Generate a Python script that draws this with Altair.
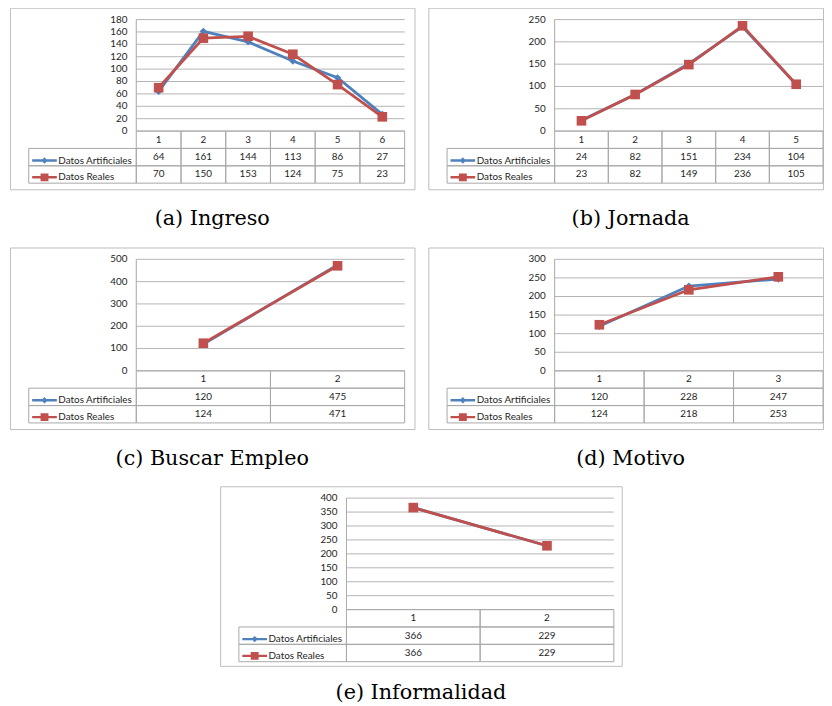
import altair as alt
import pandas as pd

# ---------------- data ----------------
SERIES = ["Datos Artificiales", "Datos Reales"]
COLORS = ["#4F81BD", "#C0504D"]

ingreso_art = [64, 161, 144, 113, 86, 27]
ingreso_real = [70, 150, 153, 124, 75, 23]
ingreso_ticks = [0, 20, 40, 60, 80, 100, 120, 140, 160, 180]

jornada_art = [24, 82, 151, 234, 104]
jornada_real = [23, 82, 149, 236, 105]
jornada_ticks = [0, 50, 100, 150, 200, 250]

buscar_art = [120, 475]
buscar_real = [124, 471]
buscar_ticks = [0, 100, 200, 300, 400, 500]

motivo_art = [120, 228, 247]
motivo_real = [124, 218, 253]
motivo_ticks = [0, 50, 100, 150, 200, 250, 300]

informal_art = [366, 229]
informal_real = [366, 229]
informal_ticks = [0, 50, 100, 150, 200, 250, 300, 350, 400]

captions = ["(a) Ingreso", "(b) Jornada", "(c) Buscar Empleo", "(d) Motivo", "(e) Informalidad"]

# ---------------- style / layout ----------------
PLOT_L = 128
LABEL_L = 19
Y_ZERO = 125
Y_TOP = 12
ROW_H = 17.6
FONT = "Lato"
FS = 10
TEXT_COLOR = "#1E1E1E"
GRID = "#B4B4B4"
TABLE = "#A8A8A8"
BOX = "#BDBDBD"
# legend sample symbols: a line with a small marker (drawn with strokes)
PATH_ART = "M-2.5,0H2.5M0,-0.3L0.3,0L0,0.3L-0.3,0Z"
PATH_REAL = ("M-2.5,0H2.5M-0.8,-0.55H0.8M-0.8,-0.2H0.8"
             "M-0.8,0.2H0.8M-0.8,0.55H0.8")
IND = dict(fill="independent", stroke="independent", shape="independent")


def panel(caption, art, real, ticks, width, height, plot_r, title_dx, title_offset):
    n = len(art)
    cats = list(range(1, n + 1))
    xs = alt.Scale(domain=[0.5, n + 0.5], range=[PLOT_L, plot_r], nice=False, zero=False)
    ys = alt.Scale(domain=[0, ticks[-1]], range=[Y_ZERO, Y_TOP], nice=False, zero=False)
    rs = alt.Scale(domain=[0, 3], range=[Y_ZERO, Y_ZERO + 3 * ROW_H], nice=False, zero=False)
    cell_w = (plot_r - PLOT_L) / n
    x_label = 0.5 - (PLOT_L - LABEL_L) / cell_w

    def X(f):
        return alt.X(f, scale=xs, axis=None)

    def Y(f):
        return alt.Y(f, scale=ys, axis=None)

    def R(f):
        return alt.Y(f, scale=rs, axis=None)

    long = pd.DataFrame({
        "idx": cats * 2,
        "serie": [SERIES[0]] * n + [SERIES[1]] * n,
        "valor": list(art) + list(real),
        "fila": [1.5] * n + [2.5] * n,
    })
    art_df = long[long["serie"] == SERIES[0]]
    real_df = long[long["serie"] == SERIES[1]]
    grid_df = pd.DataFrame({"tick": ticks, "x0": 0.5, "x1": n + 0.5})
    border_df = pd.DataFrame({"x": [0.5], "y0": [0], "y1": [ticks[-1]]})
    cells = []
    for r in range(3):
        for i in cats:
            cells.append({"x0": i - 0.5, "x1": i + 0.5, "y0": r, "y1": r + 1})
    for r in (1, 2):
        cells.append({"x0": x_label, "x1": 0.5, "y0": r, "y1": r + 1})
    cells_df = pd.DataFrame(cells)
    header_df = pd.DataFrame({"idx": cats, "txt": [str(c) for c in cats], "fila": 0.5})

    grid = alt.Chart(grid_df).mark_rule(color=GRID, strokeWidth=1).encode(
        x=X("x0:Q"), x2="x1:Q", y=Y("tick:Q"))
    border = alt.Chart(border_df).mark_rule(color=TABLE, strokeWidth=1).encode(
        x=X("x:Q"), y=Y("y0:Q"), y2="y1:Q")
    ticklab = alt.Chart(grid_df).mark_text(
        align="right", baseline="middle", dx=-9, font=FONT, fontSize=FS, color=TEXT_COLOR
    ).encode(x=X("x0:Q"), y=Y("tick:Q"), text=alt.Text("tick:Q", format="d"))

    line_a = alt.Chart(art_df).mark_line(color=COLORS[0], strokeWidth=2.8).encode(
        x=X("idx:Q"), y=Y("valor:Q"))
    pts_a = alt.Chart(art_df).mark_point(
        shape="diamond", filled=True, size=55, color=COLORS[0], opacity=1
    ).encode(x=X("idx:Q"), y=Y("valor:Q"))
    line_r = alt.Chart(real_df).mark_line(color=COLORS[1], strokeWidth=2.8).encode(
        x=X("idx:Q"), y=Y("valor:Q"))
    pts_r = alt.Chart(real_df).mark_point(
        shape="square", filled=True, size=95, color=COLORS[1], opacity=1
    ).encode(x=X("idx:Q"), y=Y("valor:Q"))

    leg = alt.Legend(
        orient="none", legendX=28.5, legendY=148.4, title=None, direction="vertical",
        symbolSize=100, symbolStrokeWidth=2.5, symbolOffset=0, labelOffset=7.5,
        labelFont=FONT, labelFontSize=FS, labelColor=TEXT_COLOR, labelLimit=0,
        rowPadding=2, padding=0, labelBaseline="middle",
    )
    legend_layer = alt.Chart(long).mark_point(
        opacity=0, size=100, strokeWidth=2.5, filled=True
    ).encode(
        x=X("idx:Q"), y=Y("valor:Q"),
        fill=alt.Fill("serie:N", scale=alt.Scale(domain=SERIES, range=COLORS), legend=leg),
        stroke=alt.Stroke("serie:N", scale=alt.Scale(domain=SERIES, range=COLORS), legend=leg),
        shape=alt.Shape("serie:N", scale=alt.Scale(domain=SERIES, range=[PATH_ART, PATH_REAL]), legend=leg),
    )

    rects = alt.Chart(cells_df).mark_rect(fill="transparent", stroke=TABLE, strokeWidth=1).encode(
        x=X("x0:Q"), x2="x1:Q", y=R("y0:Q"), y2="y1:Q")
    header_t = alt.Chart(header_df).mark_text(
        baseline="middle", font=FONT, fontSize=FS, color=TEXT_COLOR
    ).encode(x=X("idx:Q"), y=R("fila:Q"), text="txt:N")
    values_t = alt.Chart(long).mark_text(
        baseline="middle", font=FONT, fontSize=FS, color=TEXT_COLOR
    ).encode(x=X("idx:Q"), y=R("fila:Q"), text=alt.Text("valor:Q", format="d"))

    value_layer = alt.layer(grid, border, ticklab, line_a, pts_a, line_r, pts_r, legend_layer)
    table_layer = alt.layer(rects, header_t, values_t)
    return alt.layer(value_layer, table_layer).resolve_scale(y="independent").properties(
        width=width, height=height,
        title=alt.TitleParams(
            text=caption, orient="bottom", anchor="middle", font="DejaVu Serif",
            fontSize=21, fontWeight="normal", color="black", offset=title_offset, dx=title_dx,
        ),
    )


pA = panel(captions[0], ingreso_art, ingreso_real, ingreso_ticks, 410, 184, 400, 0, 19)
pB = panel(captions[1], jornada_art, jornada_real, jornada_ticks, 400, 184, 400, 5, 19)
pC = panel(captions[2], buscar_art, buscar_real, buscar_ticks, 410, 184, 400, 0, 19)
pD = panel(captions[3], motivo_art, motivo_real, motivo_ticks, 400, 184, 400, 5, 19)
pE = panel(captions[4], informal_art, informal_real, informal_ticks, 407, 182, 399, 0, 17)

# invisible spacer that pushes panel (e) to its place
spacer = alt.Chart(pd.DataFrame({"v": [0]})).mark_point(opacity=0, size=1).encode(
    x=alt.X("v:Q", axis=None), y=alt.Y("v:Q", axis=None)
).properties(width=1, height=1, view=alt.ViewBackground(stroke="transparent"))

row1 = alt.hconcat(pA, pB, spacing=12).resolve_scale(**IND).resolve_legend(**IND)
row2 = alt.hconcat(pC, pD, spacing=12).resolve_scale(**IND).resolve_legend(**IND)
row3 = alt.hconcat(spacer, pE, spacing=210).resolve_scale(**IND).resolve_legend(**IND)
top = alt.vconcat(row1, row2, spacing=17).resolve_scale(**IND).resolve_legend(**IND)
chart = alt.vconcat(top, row3, spacing=16).resolve_scale(**IND).resolve_legend(**IND).properties(
    padding={"left": 1, "top": -6, "right": 0, "bottom": 0}
).configure_view(stroke=BOX, strokeWidth=1)

chart.save("out.html", embed_options={"renderer": "svg", "actions": False})
